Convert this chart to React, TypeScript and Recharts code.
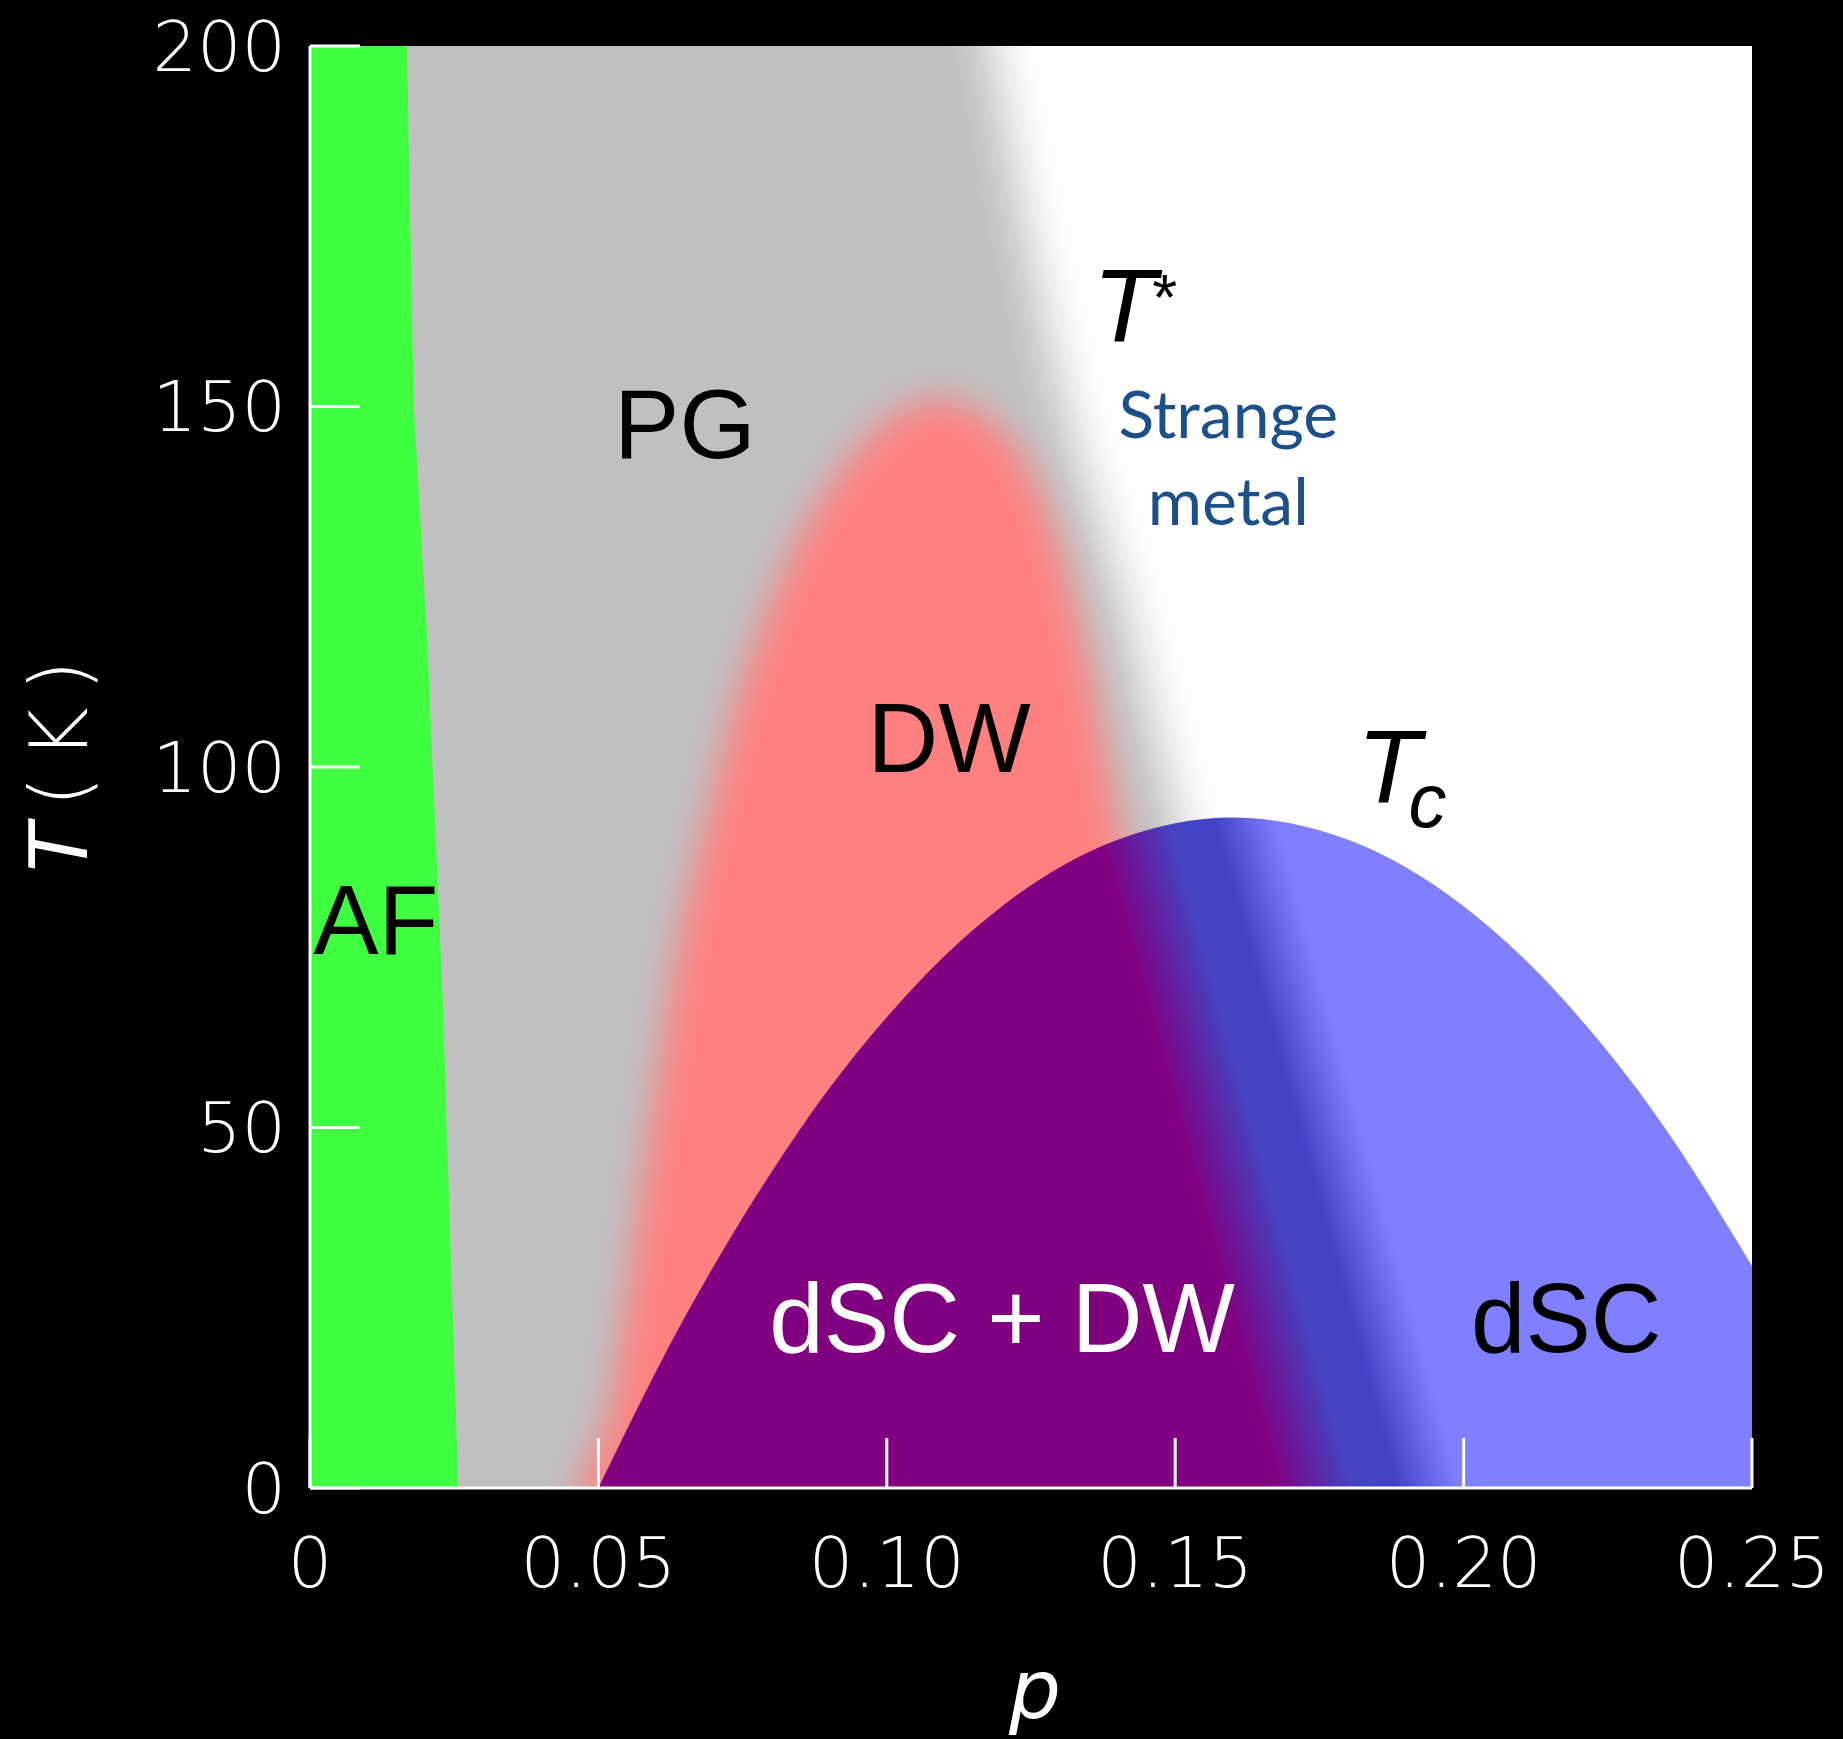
import React from 'react';
import { ComposedChart, Area, XAxis, YAxis, CartesianGrid, ReferenceDot } from 'recharts';

// pseudogap (grey): upper edge follows T*(p), values beyond the frame get clipped
const PG_P = [-0.02, 0.108, 0.118, 0.124, 0.13, 0.142, 0.148, 0.16, 0.182, 0.196];
const PG_T = [240, 240, 200, 175, 153, 120, 100, 66, 0, -40];

// density wave dome (salmon)
const DW_P = [0.04, 0.047, 0.052, 0.0577, 0.064, 0.0695, 0.0735, 0.0785, 0.085, 0.092, 0.1, 0.109, 0.118, 0.126, 0.1345, 0.14, 0.145, 0.15, 0.155, 0.161, 0.17];
const DW_T = [-40, 0, 11, 43, 76, 95, 108, 120, 132, 141, 148, 151, 148, 139, 116, 93, 72, 50, 27, 0, -40];

// antiferromagnet strip (green)
const AF_P = [-0.02, 0.016, 0.0168, 0.018, 0.0203, 0.023, 0.0257, 0.0262];
const AF_T = [240, 240, 200, 150, 118, 68, 0, -40];

// superconducting dome Tc(p)
const SC_P = [0.05, 0.06, 0.07, 0.08, 0.09, 0.1, 0.11, 0.12, 0.13, 0.14, 0.15, 0.16, 0.17, 0.18, 0.19, 0.2, 0.21, 0.22, 0.23, 0.24, 0.25];
const SC_T = [0, 16.2, 30.8, 43.8, 55.4, 65.3, 73.8, 80.7, 86.1, 89.9, 92.2, 93, 92.2, 89.9, 86.1, 80.7, 73.8, 65.3, 55.4, 43.8, 30.8];

const X_TICKS = [0, 0.05, 0.1, 0.15, 0.2, 0.25];
const X_TICK_LABELS = ['0', '0.05', '0.10', '0.15', '0.20', '0.25'];
const Y_TICKS = [0, 50, 100, 150, 200];

const REGION_NAMES = ['PG', 'DW', 'AF', 'dSC + DW', 'dSC'];
const REGION_P = [0.065, 0.1108, 0.0114, 0.12, 0.2178];
const REGION_T = [142.9, 99.3, 74.1, 18.9, 18.9];

const rows = (ps: number[], ts: number[]) => ps.map((p, i) => ({ p, t: ts[i] }));

const SANS = '"Liberation Sans", Arial, sans-serif';
const AXIS_FONT = '"DejaVu Sans", sans-serif';

const regionText = (name: string, color: string) => (props: any) => (
  <text x={props.cx} y={props.cy} textAnchor="middle" fontFamily={SANS} fontSize={98} fill={color}>
    {name}
  </text>
);

const tStarText = (props: any) => (
  <text x={props.cx} y={props.cy} fontFamily={SANS} fontSize={104} fill="#000">
    <tspan fontStyle="italic">T</tspan>
    <tspan fontSize={64} dx={-4} dy={-22}>*</tspan>
  </text>
);

const tcText = (props: any) => (
  <text x={props.cx} y={props.cy} fontFamily={SANS} fontSize={104} fill="#000">
    <tspan fontStyle="italic">T</tspan>
    <tspan fontStyle="italic" fontSize={76} dx={-12} dy={24}>c</tspan>
  </text>
);

const strangeText = (props: any) => (
  <text x={props.cx} y={props.cy} textAnchor="middle" fontFamily='Lato, "Open Sans", sans-serif' fontSize={66} fill="#1d4f88">
    <tspan x={props.cx}>Strange</tspan>
    <tspan x={props.cx} dy={87}>metal</tspan>
  </text>
);

const xTitle = (props: any) => {
  const vb = props.viewBox || { x: 310, y: 1488, width: 1442, height: 251 };
  return (
    <text x={vb.x + vb.width / 2 + 4} y={vb.y + 230} textAnchor="middle" fontFamily={AXIS_FONT} fontWeight={200} fontStyle="italic" fontSize={82} fill="#fff">
      p
    </text>
  );
};

const yTitle = (props: any) => {
  const vb = props.viewBox || { x: 0, y: 46, width: 310, height: 1442 };
  const cx = vb.x + 87;
  const cy = vb.y + vb.height / 2 - 9;
  return (
    <text x={cx} y={cy} transform={`rotate(-90, ${cx}, ${cy})`} textAnchor="middle" fontFamily={AXIS_FONT} fontWeight={200} fontSize={80} letterSpacing={16} fill="#fff">
      <tspan fontStyle="italic">T</tspan>(K)
    </text>
  );
};

const tickStyle = { fill: '#fff', fontSize: 70, fontFamily: AXIS_FONT, fontWeight: 200 };
const frame = { stroke: '#fff', strokeWidth: 3 };

export default function App() {
  return (
    <div style={{ position: 'absolute', left: 0, top: 0, width: 1843, height: 1739, background: '#000', overflow: 'hidden' }}>
      <ComposedChart width={1843} height={1739} margin={{ top: 46, right: 91, bottom: 0, left: 0 }}>
        <defs>
          <filter id="soft-wide" x="-0.3" y="-0.3" width="1.6" height="1.6" colorInterpolationFilters="sRGB">
            <feGaussianBlur stdDeviation={24} />
          </filter>
          <filter id="soft-mid" x="-0.3" y="-0.3" width="1.6" height="1.6" colorInterpolationFilters="sRGB">
            <feGaussianBlur stdDeviation={18} />
          </filter>
          <linearGradient id="sc-fill" x1="0.3" y1="0.55" x2="0.9" y2="0.454">
            <stop offset="0.35" stopColor="#800080" />
            <stop offset="0.46" stopColor="#4444c2" />
            <stop offset="0.52" stopColor="#4242c4" />
            <stop offset="0.61" stopColor="#8080ff" />
          </linearGradient>
        </defs>
        <CartesianGrid fill="#ffffff" stroke="none" horizontal={false} vertical={false} />
        <XAxis
          dataKey="p"
          type="number"
          domain={[0, 0.25]}
          allowDataOverflow
          ticks={X_TICKS}
          tickFormatter={(v, i) => X_TICK_LABELS[i]}
          height={251}
          stroke="#fff"
          axisLine={frame}
          tickLine={frame}
          tickSize={-50}
          tickMargin={99}
          tick={tickStyle}
          interval={0}
          label={xTitle}
        />
        <XAxis xAxisId="top" orientation="top" type="number" domain={[0, 0.25]} ticks={X_TICKS} height={0} stroke="#fff" axisLine={frame} tickLine={frame} tickSize={-50} tick={false} />
        <YAxis
          type="number"
          domain={[0, 200]}
          allowDataOverflow
          ticks={Y_TICKS}
          width={310}
          stroke="#fff"
          axisLine={frame}
          tickLine={frame}
          tickSize={-50}
          tickMargin={74}
          tick={tickStyle}
          interval={0}
          label={yTitle}
        />
        <YAxis yAxisId="right" orientation="right" type="number" domain={[0, 200]} ticks={Y_TICKS} width={0} stroke="#fff" axisLine={frame} tickLine={frame} tickSize={-50} tick={false} />

        <Area data={rows(PG_P, PG_T)} dataKey="t" type="monotone" baseValue={-40} fill="#c0c0c0" fillOpacity={1} stroke="none" filter="url(#soft-wide)" dot={false} activeDot={false} isAnimationActive={false} />
        <Area data={rows(DW_P, DW_T)} dataKey="t" type="monotone" baseValue={-40} fill="#ff8080" fillOpacity={1} stroke="none" filter="url(#soft-mid)" dot={false} activeDot={false} isAnimationActive={false} />
        <Area data={rows(AF_P, AF_T)} dataKey="t" type="linear" baseValue={-40} fill="#40ff40" fillOpacity={1} stroke="none" dot={false} activeDot={false} isAnimationActive={false} />
        <Area data={rows(SC_P, SC_T)} dataKey="t" type="natural" fill="url(#sc-fill)" fillOpacity={1} stroke="none" dot={false} activeDot={false} isAnimationActive={false} />

        {REGION_NAMES.map((name, i) => (
          <ReferenceDot key={name} x={REGION_P[i]} y={REGION_T[i]} r={0} shape={regionText(name, name === 'dSC + DW' ? '#fff' : '#000')} />
        ))}
        <ReferenceDot x={0.1357} y={158.9} r={0} shape={tStarText} />
        <ReferenceDot x={0.1815} y={95} r={0} shape={tcText} />
        <ReferenceDot x={0.1592} y={145.6} r={0} shape={strangeText} />
      </ComposedChart>
    </div>
  );
}
